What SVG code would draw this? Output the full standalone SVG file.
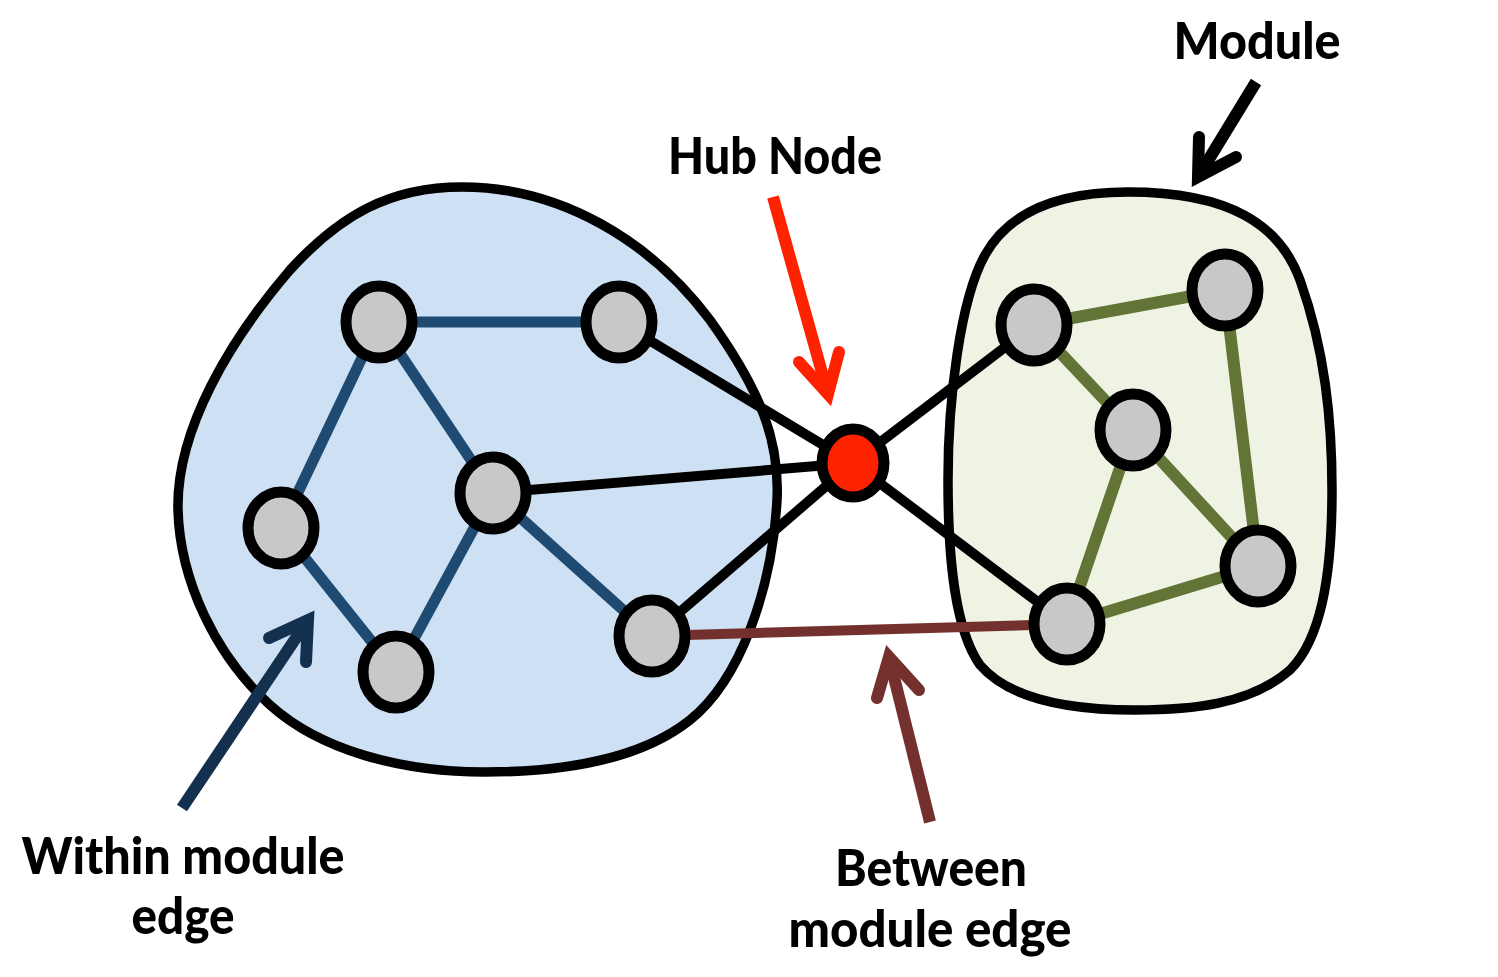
<svg xmlns="http://www.w3.org/2000/svg" width="1498" height="977" viewBox="0 0 1498 977">
<style>
.blob{stroke:#000;stroke-width:9.5}
.node{fill:#C8C8C8;stroke:#000;stroke-width:11}
.hub{fill:#FF2200;stroke:#000;stroke-width:11}
.eb{stroke:#1F4B73;stroke-width:11}
.ek{stroke:#000;stroke-width:10}
.eg{stroke:#627536;stroke-width:12}
.er{stroke:#74302D;stroke-width:10}
.shaft{fill:none;stroke-width:12;stroke-linecap:butt}
.head{fill:none;stroke-width:12;stroke-linecap:round;stroke-linejoin:miter;stroke-miterlimit:10}
.lbl{font-family:Lato,"Liberation Sans",sans-serif;font-weight:900;font-size:51px;fill:#000;text-anchor:middle}
</style>
<rect width="1498" height="977" fill="#fff"/>
<g id="module-left">
<path class="blob" fill="#CEE1F4" d="M462,187 C560,187 650,240 710,320 C760,390 780,440 777,500 C772,590 740,680 690,720 C640,760 560,772 485,772 C400,772 320,750 270,705 C215,655 180,580 178,510 C176,430 230,340 290,270 C340,215 390,187 462,187 Z"/>
</g>
<g id="module-right">
<path class="blob" fill="#EFF3E4" d="M1128,192 C1230,192 1280,225 1300,280 C1325,350 1332,420 1332,490 C1332,580 1320,640 1290,670 C1250,705 1190,710 1135,710 C1070,710 1010,700 980,665 C955,630 948,560 948,480 C948,400 960,300 985,255 C1010,210 1060,192 1128,192 Z"/>
</g>
<g id="connectors">
<line class="eb" x1="379" y1="322" x2="619" y2="322"/>
<line class="eb" x1="379" y1="322" x2="281" y2="528"/>
<line class="eb" x1="379" y1="322" x2="493" y2="493"/>
<line class="eb" x1="493" y1="493" x2="396" y2="672"/>
<line class="eb" x1="281" y1="528" x2="396" y2="672"/>
<line class="eb" x1="493" y1="493" x2="652" y2="636"/>
<line class="ek" x1="619" y1="322" x2="853" y2="463"/>
<line class="ek" x1="493" y1="493" x2="853" y2="463"/>
<line class="ek" x1="652" y1="636" x2="853" y2="463"/>
<line class="ek" x1="853" y1="463" x2="1034" y2="325"/>
<line class="ek" x1="853" y1="463" x2="1067" y2="624"/>
<line class="eg" x1="1034" y1="325" x2="1225" y2="290"/>
<line class="eg" x1="1034" y1="325" x2="1133" y2="430"/>
<line class="eg" x1="1225" y1="290" x2="1258" y2="566"/>
<line class="eg" x1="1133" y1="430" x2="1067" y2="624"/>
<line class="eg" x1="1133" y1="430" x2="1258" y2="566"/>
<line class="eg" x1="1258" y1="566" x2="1067" y2="624"/>
<line class="er" x1="652" y1="636" x2="1067" y2="624"/>
</g>
<g id="node-a"><ellipse class="node" cx="379" cy="322" rx="33" ry="36"/></g>
<g id="node-b"><ellipse class="node" cx="619" cy="322" rx="33" ry="36"/></g>
<g id="node-c"><ellipse class="node" cx="493" cy="493" rx="33" ry="36"/></g>
<g id="node-d"><ellipse class="node" cx="281" cy="528" rx="33" ry="36"/></g>
<g id="node-e"><ellipse class="node" cx="396" cy="672" rx="33" ry="36"/></g>
<g id="node-f"><ellipse class="node" cx="652" cy="636" rx="33" ry="36"/></g>
<g id="hub-node"><ellipse class="hub" cx="853" cy="463" rx="31" ry="34"/></g>
<g id="node-g"><ellipse class="node" cx="1034" cy="325" rx="33" ry="36"/></g>
<g id="node-h"><ellipse class="node" cx="1225" cy="290" rx="33" ry="36"/></g>
<g id="node-i"><ellipse class="node" cx="1133" cy="430" rx="33" ry="36"/></g>
<g id="node-j"><ellipse class="node" cx="1258" cy="566" rx="33" ry="36"/></g>
<g id="node-k"><ellipse class="node" cx="1067" cy="624" rx="33" ry="36"/></g>
<g id="arrow-module" stroke="#000">
<line class="shaft" x1="1256" y1="82" x2="1198" y2="177"/>
<polyline class="head" points="1199,137 1198,177 1236,157"/>
</g>
<g id="arrow-hub" stroke="#FF2200">
<line class="shaft" x1="773" y1="197" x2="828" y2="394"/>
<polyline class="head" points="799,362 828,394 839,352"/>
</g>
<g id="arrow-within" stroke="#14304F">
<line class="shaft" x1="182" y1="808" x2="308" y2="620"/>
<polyline class="head" points="269,638 308,620 306,662"/>
</g>
<g id="arrow-between" stroke="#74302D">
<line class="shaft" x1="930" y1="822" x2="889" y2="657"/>
<polyline class="head" points="877,698 889,657 919,690"/>
</g>
<g id="labels">
<text class="lbl" x="1257" y="59" textLength="167" lengthAdjust="spacingAndGlyphs">Module</text>
<text class="lbl" x="775" y="174" textLength="214" lengthAdjust="spacingAndGlyphs">Hub Node</text>
<text class="lbl" x="183" y="874" textLength="323" lengthAdjust="spacingAndGlyphs">Within module</text>
<text class="lbl" x="183" y="934" textLength="103" lengthAdjust="spacingAndGlyphs">edge</text>
<text class="lbl" x="931" y="886" textLength="192" lengthAdjust="spacingAndGlyphs">Between</text>
<text class="lbl" x="930" y="947" textLength="283" lengthAdjust="spacingAndGlyphs">module edge</text>
</g>
</svg>
